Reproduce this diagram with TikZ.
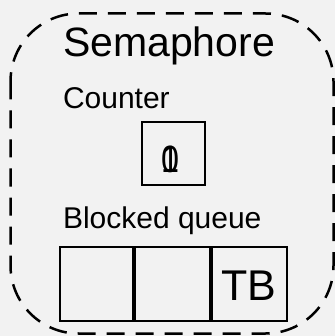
\documentclass[tikz,border=0pt]{standalone}
\usepackage{fontspec}
\setmainfont{Liberation Sans}
\definecolor{bgcol}{HTML}{F2F2F2}
\tikzset{
  cell/.style={draw=black, line width=2pt},
  lbl/.style={anchor=base west, inner sep=0pt, outer sep=0pt},
  digit/.style={anchor=base, inner sep=0pt, xscale=0.85, font=\fontsize{38}{38}\selectfont},
}
\begin{document}
\begin{tikzpicture}[x=1pt, y=-1pt]
\fill[bgcol] (0,0) rectangle (335,336);
\useasboundingbox (0,0) rectangle (335,336);
% outer dashed container
\draw[line width=2.5pt, dash pattern=on 18pt off 11pt, rounded corners=68pt] (10.5,13.5) rectangle (333.5,333.5);
\node[lbl, font=\fontsize{41}{41}\selectfont] (title) at (63,57) {Semaphore};
\node[lbl, font=\fontsize{30}{30}\selectfont] (counterlbl) at (63,108.5) {Counter};
% counter box
\draw[cell] (141.7,121.7) rectangle (205,185);
\node[digit] (d0) at (170.5,173) {0};
\node[digit] (d1) at (170.5,173) {1};
\node[lbl, font=\fontsize{30}{30}\selectfont] (queuelbl) at (63,228) {Blocked queue};
% queue cells
\draw[cell] (59.5,247) rectangle (133,320.5);
\draw[cell] (135,247) rectangle (209.5,320.5);
\draw[cell] (212,247) rectangle (286.5,320.5);
\node[lbl, font=\fontsize{43}{43}\selectfont] (tb) at (221,300) {TB};
\end{tikzpicture}
\end{document}
